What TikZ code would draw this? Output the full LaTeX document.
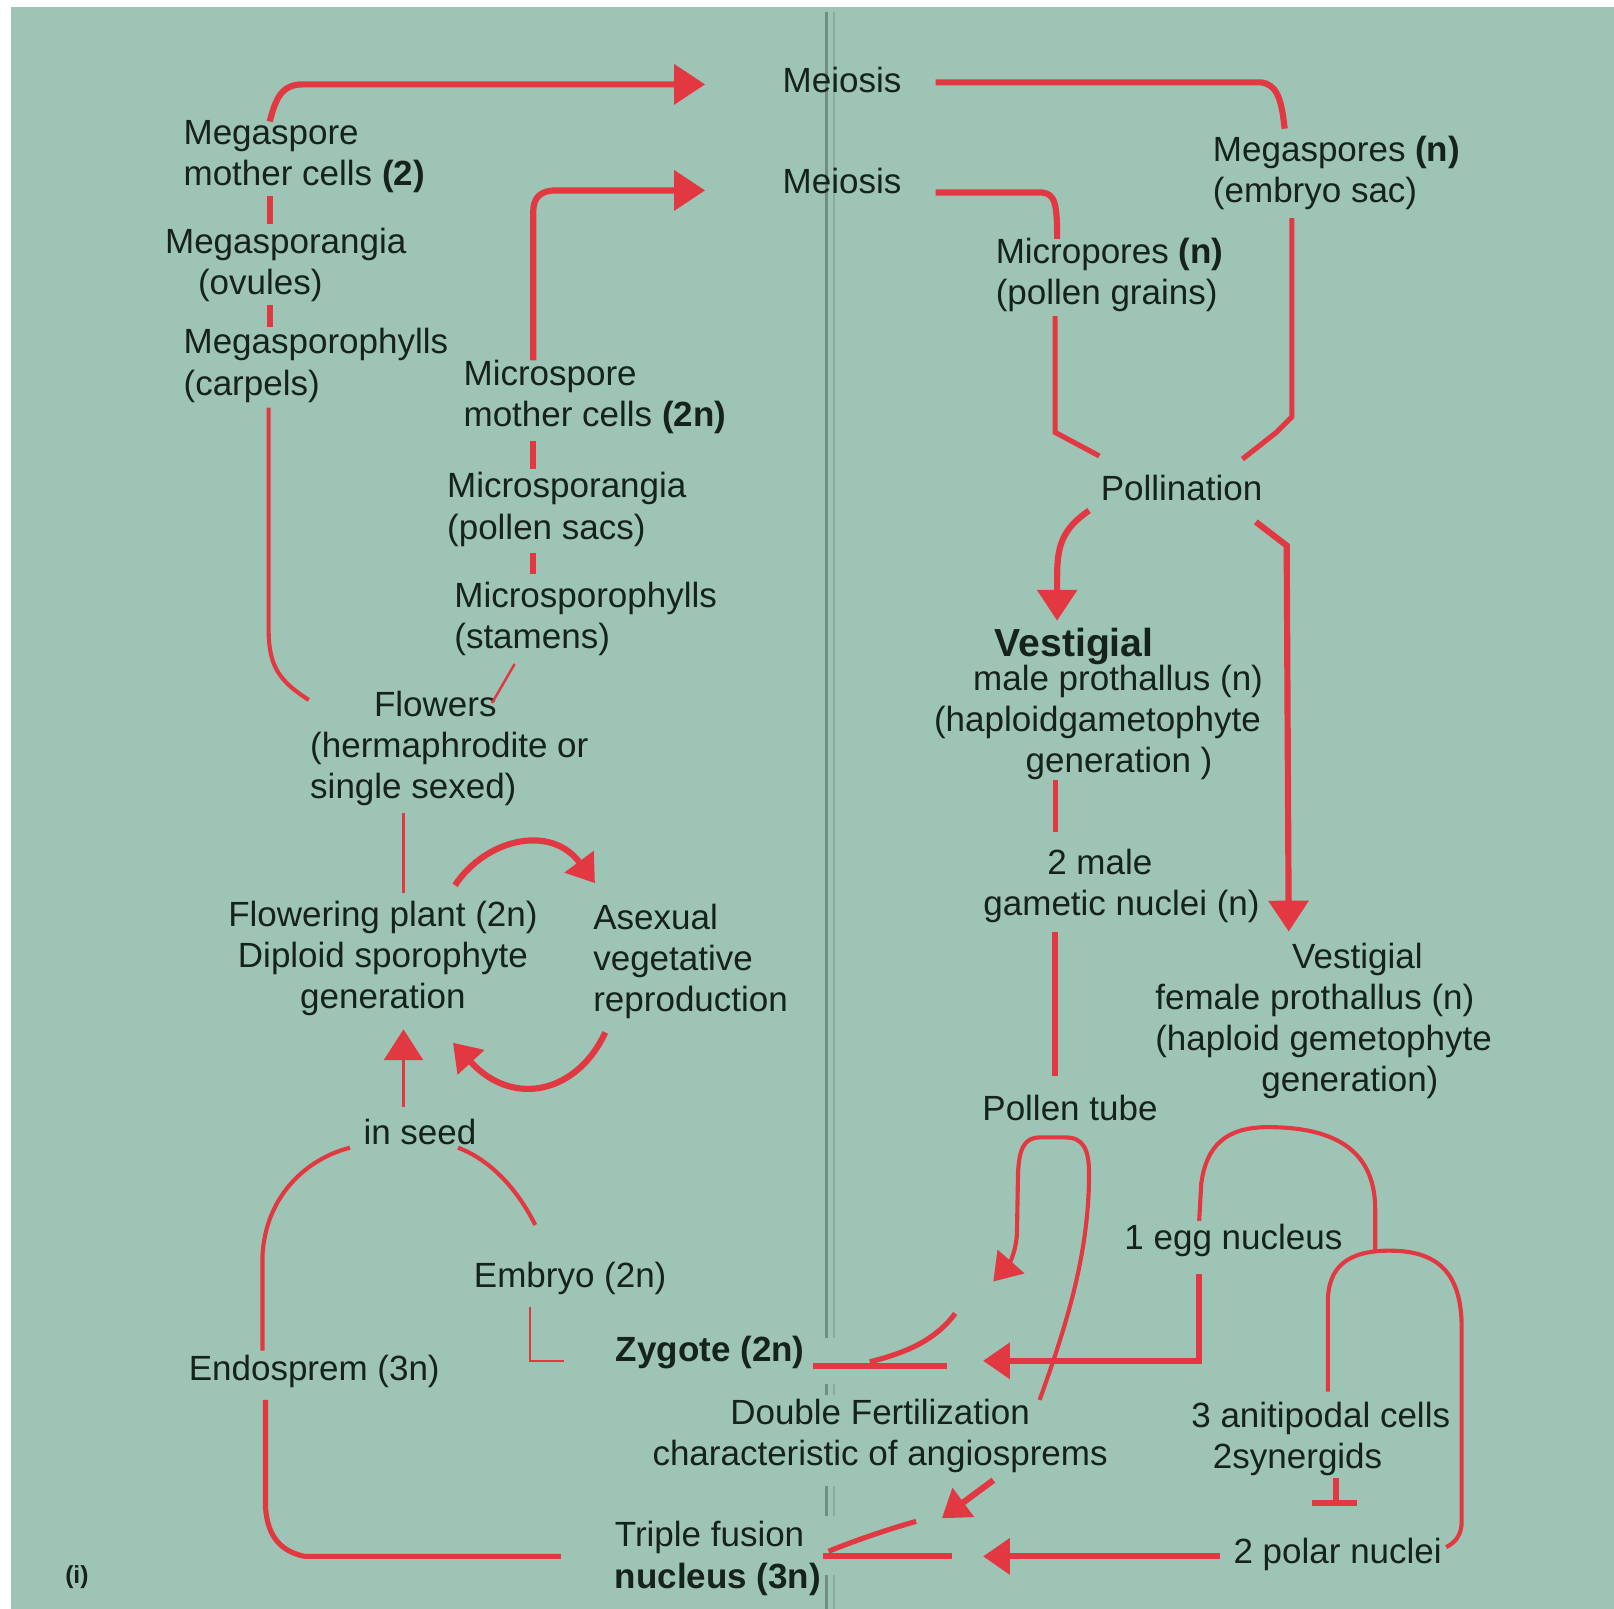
\documentclass[tikz,border=0pt]{standalone}
\usepackage{fontspec}
\setmainfont{Liberation Sans}
\usetikzlibrary{arrows.meta}
\definecolor{bg}{RGB}{158,196,182}
\definecolor{lred}{RGB}{226,56,66}
\definecolor{txt}{RGB}{22,34,28}
\definecolor{gline}{RGB}{112,142,132}
\newcommand\dfont{\fontsize{17}{20}\selectfont}
\begin{document}
\begin{tikzpicture}[x=0.5pt,y=-0.5pt,
  lbl/.style={inner sep=0pt,font=\dfont,text=txt,align=left},
  clbl/.style={inner sep=0pt,font=\dfont,text=txt,align=center},
  thk/.style={draw=lred,line width=3pt},
  mid/.style={draw=lred,line width=2pt},
  thn/.style={draw=lred,line width=1.2pt},
  arr/.style={-{Triangle[length=15pt,width=19pt]}},
  sarr/.style={-{Triangle[length=13pt,width=17pt]}},
  sep/.style={draw=gline,line width=1pt}]
\useasboundingbox (0,0) rectangle (1568,1563);
\fill[bg] (11,7) rectangle (1568,1563);
% separator double line
\foreach \a/\b in {12/1300,1345/1365,1444/1473,1530/1563}{
  \draw[sep,line width=1.3pt] (803,\a) -- (803,\b);
  \draw[sep,draw=gline!45!bg] (810,\a) -- (810,\b);
}
% ---------- nodes ----------
\node[clbl] (mei1) at (818,78) {Meiosis};
\node[clbl] (mei2) at (818,176) {Meiosis};
\node[lbl,anchor=west] (msmc) at (178,152) {Megaspore\\mother cells \textbf{(2)}};
\node[lbl,anchor=west] (msg) at (160,257) {Megasporangia\\\hspace*{16pt}(ovules)};
\node[lbl,anchor=west] (msph) at (178,355) {Megasporophylls\\(carpels)};
\node[lbl,anchor=west] (mimc) at (450,386) {Microspore\\mother cells \textbf{(2n)}};
\node[lbl,anchor=west] (misg) at (434,495) {Microsporangia\\(pollen sacs)};
\node[lbl,anchor=west] (miph) at (441,601) {Microsporophylls\\(stamens)};
\node[lbl,anchor=west] (flw) at (301,727) {\hspace*{31pt}Flowers\\(hermaphrodite or\\single sexed)};
\node[clbl] (fpl) at (372,931) {Flowering plant (2n)\\Diploid sporophyte\\generation};
\node[lbl,anchor=west] (asx) at (576,934) {Asexual\\vegetative\\reproduction};
\node[clbl] (seed) at (408,1100) {in seed};
\node[lbl,anchor=west] (emb) at (460,1242) {Embryo (2n)};
\node[lbl,anchor=west] (endo) at (183,1332) {Endosprem (3n)};
\node[lbl,anchor=west] (zyg) at (598,1314) {\textbf{Zygote (2n)}};
\node[clbl,fill=bg,inner sep=2pt] (dfert) at (855,1395) {Double Fertilization\\characteristic of angiosprems};
\node[lbl,anchor=west] (trip) at (597,1514) {Triple fusion\\\textbf{nucleus (3n)}};
\node[lbl,anchor=west,font=\fontsize{12}{14}\selectfont\bfseries] (ilab) at (63,1532) {(i)};
\node[lbl,anchor=west] (mgs) at (1178,168) {Megaspores \textbf{(n)}\\(embryo sac)};
\node[lbl,anchor=west] (mip) at (967,267) {Micropores \textbf{(n)}\\(pollen grains)};
\node[lbl,anchor=west] (pol) at (1069,474) {Pollination};
\node[lbl,anchor=west,font=\fontsize{19}{22}\selectfont\bfseries] (vm1) at (966,628) {Vestigial};
\node[lbl,anchor=west] (vm2) at (907,702) {\hspace*{19pt}male prothallus (n)\\(haploidgametophyte\\\hspace*{44.5pt}generation )};
\node[lbl,anchor=west] (gam) at (955,861) {\hspace*{31pt}2 male\\gametic nuclei (n)};
\node[lbl,anchor=west] (vfem) at (1122,992) {\hspace*{66.5pt}Vestigial\\female prothallus (n)\\(haploid gemetophyte\\\hspace*{51.5pt}generation)};
\node[lbl,anchor=west] (ptube) at (954,1076) {Pollen tube};
\node[lbl,anchor=west] (egg) at (1092,1205) {1 egg nucleus};
\node[lbl,anchor=west] (anti) at (1157,1398) {3 anitipodal cells\\\hspace*{10.5pt}2synergids};
\node[lbl,anchor=west] (polar) at (1198,1510) {2 polar nuclei};
% ---------- coordinates ----------
\coordinate (a1) at (262,118);
\coordinate (a1t) at (685,82);
\coordinate (a2) at (518,350);
\coordinate (a2t) at (685,185);
\coordinate (m1e) at (1248,125);
\coordinate (m2e) at (1027,232);
\coordinate (pl1) at (1068,443);
\coordinate (pl2) at (1207,446);
\coordinate (vmt) at (1027,603);
\coordinate (vft) at (1252,905);
\coordinate (fp1) at (300,680);
\coordinate (fp2) at (500,645);
\coordinate (fp3) at (478,683);
\coordinate (sd1) at (340,1115);
\coordinate (sd2) at (445,1115);
\coordinate (zgt) at (955,1322);
\coordinate (pnt) at (955,1512);
\coordinate (dft) at (915,1475);
\coordinate (ptt) at (965,1245);
% ---------- connectors ----------
% meiosis arrows
\draw[thk,arr] (a1) .. controls (268,95) and (274,82) .. (294,82) -- (a1t);
\draw[thk,arr] (a2) -- (518,206) .. controls (518,192) and (525,185) .. (540,185) -- (a2t);
\draw[thk] (262,190) -- (262,218);
\draw[thk] (262,296) -- (262,318);
\draw[thk] (518,428) -- (518,456);
\draw[thk] (518,537) -- (518,558);
% right top
\draw[thk] (mei1.east)++(33,2) -- (1225,80) .. controls (1240,82) and (1245,95) .. (m1e);
\draw[thk] (mei2.east)++(33,11) -- (1012,187) .. controls (1025,188) and (1027,198) .. (m2e);
\draw[mid,line width=2.5pt] (1025,307) -- (1025,420) -- (pl1);
\draw[mid,line width=2.5pt] (1255,212) -- (1255,405) -- (1240,420) -- (pl2);
\draw[thk,arr] (1058,496) .. controls (1032,514) and (1027,530) .. (1027,560) -- (vmt);
\draw[thk,arr] (1220,507) -- (1250,530) -- (vft);
\draw[mid,line width=2.5pt] (1025,758) -- (1025,808);
\draw[thk] (1025,905) -- (1025,1045);
% left column
\draw[mid] (fp1) .. controls (272,662) and (261,648) .. (261,612) -- (261,396);
\draw[thn] (fp3) -- (fp2);
\draw[thn] (392,868) -- (392,790);
\draw[thk,sarr] (442,860) .. controls (472,815) and (535,800) .. (578,858);
\draw[thk,sarr] (588,1003) .. controls (562,1060) and (500,1078) .. (440,1013);
\draw[thn,arr] (392,1075) -- (392,1000);
\draw[mid] (255,1312) -- (255,1220) .. controls (258,1160) and (300,1125) .. (sd1);
\draw[mid,line width=2.5pt] (258,1360) -- (258,1465) .. controls (260,1492) and (272,1507) .. (296,1512) -- (545,1512);
\draw[mid] (520,1190) .. controls (500,1150) and (472,1125) .. (sd2);
\draw[thn] (515,1270) -- (515,1322) -- (548,1322);
% bottom fertilization
\draw[thk] (790,1327) -- (920,1327);
\draw[mid,line width=2.5pt] (845,1323) .. controls (885,1313) and (910,1300) .. (928,1276);
\draw[thk,sarr] (1165,1238) -- (1165,1322) -- (zgt);
\draw[mid] (1165,1186) -- (1167,1150) .. controls (1172,1112) and (1192,1095) .. (1232,1095) .. controls (1300,1095) and (1336,1120) .. (1336,1175) -- (1336,1216);
\draw[mid] (1290,1352) -- (1290,1265) .. controls (1290,1230) and (1310,1215) .. (1350,1215) .. controls (1400,1215) and (1420,1240) .. (1420,1290) -- (1420,1478) .. controls (1420,1490) and (1415,1498) .. (1405,1503);
\draw[thk] (1298,1436) -- (1298,1460);
\draw[thk] (1275,1460) -- (1318,1460);
\draw[thk,sarr] (1185,1512) -- (pnt);
\draw[thk] (800,1512) -- (925,1512);
\draw[mid,line width=2.5pt] (805,1507) .. controls (835,1495) and (862,1486) .. (890,1478);
\draw[thk,sarr] (965,1438) -- (dft);
\draw[mid,sarr] (1010,1360) .. controls (1035,1290) and (1058,1220) .. (1058,1140) .. controls (1058,1116) and (1052,1105) .. (1035,1105) -- (1010,1105) .. controls (994,1105) and (990,1118) .. (989,1140) -- (988,1195) .. controls (988,1215) and (980,1228) .. (ptt);
\end{tikzpicture}
\end{document}
